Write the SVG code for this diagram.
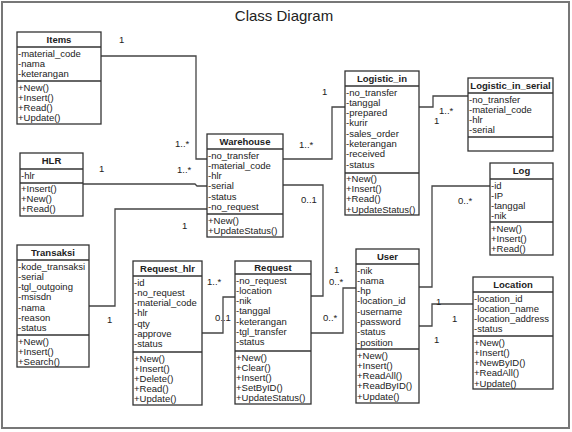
<svg xmlns="http://www.w3.org/2000/svg" width="572" height="432" viewBox="0 0 572 432">
<style>
.bg{fill:#fff}
.frame{fill:none;stroke:#777;stroke-width:2}
.box{fill:#fff;stroke:#333;stroke-width:1.3}
.sep{stroke:#333;stroke-width:1.3}
.c{fill:none;stroke:#444;stroke-width:1.3}
text{font-family:"Liberation Sans",Arial,sans-serif;font-size:9.5px;fill:#222}
.h{font-weight:bold;text-anchor:middle}
.title{font-size:15px;text-anchor:middle}
</style>
<rect class="bg" x="0" y="0" width="572" height="432"/>
<rect class="frame" x="2" y="2" width="567" height="426"/>
<text class="title" x="284" y="21">Class Diagram</text>

<g id="connectors">
<path class="c" d="M101,56 H196 V159 H207"/>
<path class="c" d="M83,184 H195 L197,186 H207"/>
<path class="c" d="M207,209 H115 V306 H89"/>
<path class="c" d="M283,159 H332 V107 H345"/>
<path class="c" d="M419,107 H433 V96 H468"/>
<path class="c" d="M283,185 H323 V296 H311"/>
<path class="c" d="M311,333 H343 V288 H356"/>
<path class="c" d="M202,333 H223 V297 H235"/>
<path class="c" d="M490,186 H432 V287 H419"/>
<path class="c" d="M419,326 H432 V304 H473"/>
<text x="119" y="43">1</text>
<text x="175" y="147">1..*</text>
<text x="99" y="172">1</text>
<text x="177" y="173">1..*</text>
<text x="182" y="229">1</text>
<text x="107" y="323">1</text>
<text x="322" y="95">1</text>
<text x="299" y="148">1..*</text>
<text x="439" y="114">1..*</text>
<text x="434" y="124">1</text>
<text x="301" y="203">0..1</text>
<text x="334" y="273">1</text>
<text x="329" y="285">0..*</text>
<text x="323" y="321">0..*</text>
<text x="207" y="285">1..*</text>
<text x="215" y="321">0..1</text>
<text x="458" y="204">0..*</text>
<text x="436" y="305">1</text>
<text x="452" y="322">1</text>
<text x="434" y="343">1</text>
</g>

<g id="Items">
<rect class="box" x="17" y="32" width="84" height="92"/>
<line class="sep" x1="17" y1="47" x2="101" y2="47"/>
<line class="sep" x1="17" y1="81" x2="101" y2="81"/>
<text class="h" x="59" y="43">Items</text>
<text x="18" y="56.5">-material_code</text>
<text x="18" y="66.8">-nama</text>
<text x="18" y="77.1">-keterangan</text>
<text x="18" y="90.5">+New()</text>
<text x="18" y="100.8">+Insert()</text>
<text x="18" y="111.1">+Read()</text>
<text x="18" y="121.4">+Update()</text>
</g>

<g id="HLR">
<rect class="box" x="20" y="153" width="63" height="63"/>
<line class="sep" x1="20" y1="169" x2="83" y2="169"/>
<line class="sep" x1="20" y1="183" x2="83" y2="183"/>
<text class="h" x="51.5" y="164">HLR</text>
<text x="21" y="178.5">-hlr</text>
<text x="21" y="192">+Insert()</text>
<text x="21" y="202">+New()</text>
<text x="21" y="212">+Read()</text>
</g>

<g id="Transaksi">
<rect class="box" x="17" y="245" width="72" height="122"/>
<line class="sep" x1="17" y1="260" x2="89" y2="260"/>
<line class="sep" x1="17" y1="335" x2="89" y2="335"/>
<text class="h" x="53" y="256">Transaksi</text>
<text x="18" y="269.5">-kode_transaksi</text>
<text x="18" y="279.8">-serial</text>
<text x="18" y="290.1">-tgl_outgoing</text>
<text x="18" y="300.4">-msisdn</text>
<text x="18" y="310.7">-nama</text>
<text x="18" y="321">-reason</text>
<text x="18" y="331.3">-status</text>
<text x="18" y="344.5">+New()</text>
<text x="18" y="354.8">+Insert()</text>
<text x="18" y="365.1">+Search()</text>
</g>

<g id="Warehouse">
<rect class="box" x="207" y="134" width="76" height="103"/>
<line class="sep" x1="207" y1="149" x2="283" y2="149"/>
<line class="sep" x1="207" y1="214" x2="283" y2="214"/>
<text class="h" x="245" y="145">Warehouse</text>
<text x="208" y="158.5">-no_transfer</text>
<text x="208" y="168.8">-material_code</text>
<text x="208" y="179.1">-hlr</text>
<text x="208" y="189.4">-serial</text>
<text x="208" y="199.7">-status</text>
<text x="208" y="210">-no_request</text>
<text x="208" y="223.5">+New()</text>
<text x="208" y="233.8">+UpdateStatus()</text>
</g>

<g id="Logistic_in">
<rect class="box" x="345" y="71" width="74" height="144"/>
<line class="sep" x1="345" y1="86" x2="419" y2="86"/>
<line class="sep" x1="345" y1="173" x2="419" y2="173"/>
<text class="h" x="382" y="82">Logistic_in</text>
<text x="346" y="95.5">-no_transfer</text>
<text x="346" y="105.8">-tanggal</text>
<text x="346" y="116.1">-prepared</text>
<text x="346" y="126.4">-kurir</text>
<text x="346" y="136.7">-sales_order</text>
<text x="346" y="147">-keterangan</text>
<text x="346" y="157.3">-received</text>
<text x="346" y="167.6">-status</text>
<text x="346" y="182">+New()</text>
<text x="346" y="192.2">+Insert()</text>
<text x="346" y="202.4">+Read()</text>
<text x="346" y="212.6">+UpdateStatus()</text>
</g>

<g id="Logistic_in_serial">
<rect class="box" x="468" y="78" width="85" height="73"/>
<line class="sep" x1="468" y1="93" x2="553" y2="93"/>
<line class="sep" x1="468" y1="137" x2="553" y2="137"/>
<text class="h" x="510.5" y="89">Logistic_in_serial</text>
<text x="469" y="102.5">-no_transfer</text>
<text x="469" y="112.8">-material_code</text>
<text x="469" y="123.1">-hlr</text>
<text x="469" y="133.4">-serial</text>
</g>

<g id="Log">
<rect class="box" x="490" y="163" width="63" height="92"/>
<line class="sep" x1="490" y1="179" x2="553" y2="179"/>
<line class="sep" x1="490" y1="222" x2="553" y2="222"/>
<text class="h" x="521.5" y="174">Log</text>
<text x="491" y="188.5">-id</text>
<text x="491" y="198.8">-IP</text>
<text x="491" y="209.1">-tanggal</text>
<text x="491" y="219.4">-nik</text>
<text x="491" y="231.5">+New()</text>
<text x="491" y="241.8">+Insert()</text>
<text x="491" y="252.1">+Read()</text>
</g>

<g id="Request_hlr">
<rect class="box" x="133" y="261" width="69" height="144"/>
<line class="sep" x1="133" y1="276" x2="202" y2="276"/>
<line class="sep" x1="133" y1="352" x2="202" y2="352"/>
<text class="h" x="167.5" y="272">Request_hlr</text>
<text x="134" y="285.5">-id</text>
<text x="134" y="295.8">-no_request</text>
<text x="134" y="306.1">-material_code</text>
<text x="134" y="316.4">-hlr</text>
<text x="134" y="326.7">-qty</text>
<text x="134" y="337">-approve</text>
<text x="134" y="347.3">-status</text>
<text x="134" y="361.5">+New()</text>
<text x="134" y="371.7">+Insert()</text>
<text x="134" y="381.9">+Delete()</text>
<text x="134" y="392.1">+Read()</text>
<text x="134" y="402.3">+Update()</text>
</g>

<g id="Request">
<rect class="box" x="235" y="261" width="76" height="143"/>
<line class="sep" x1="235" y1="274" x2="311" y2="274"/>
<line class="sep" x1="235" y1="351" x2="311" y2="351"/>
<text class="h" x="273" y="271">Request</text>
<text x="236" y="283.5">-no_request</text>
<text x="236" y="293.8">-location</text>
<text x="236" y="304.1">-nik</text>
<text x="236" y="314.4">-tanggal</text>
<text x="236" y="324.7">-keterangan</text>
<text x="236" y="335">-tgl_transfer</text>
<text x="236" y="345.3">-status</text>
<text x="236" y="360.5">+New()</text>
<text x="236" y="370.7">+Clear()</text>
<text x="236" y="380.9">+Insert()</text>
<text x="236" y="391.1">+SetByID()</text>
<text x="236" y="401.3">+UpdateStatus()</text>
</g>

<g id="User">
<rect class="box" x="356" y="249" width="63" height="154"/>
<line class="sep" x1="356" y1="264" x2="419" y2="264"/>
<line class="sep" x1="356" y1="349" x2="419" y2="349"/>
<text class="h" x="387.5" y="260">User</text>
<text x="357" y="273.5">-nik</text>
<text x="357" y="283.8">-nama</text>
<text x="357" y="294.1">-hp</text>
<text x="357" y="304.4">-location_id</text>
<text x="357" y="314.7">-username</text>
<text x="357" y="325">-password</text>
<text x="357" y="335.3">-status</text>
<text x="357" y="345.6">-position</text>
<text x="357" y="358.5">+New()</text>
<text x="357" y="368.8">+Insert()</text>
<text x="357" y="379.1">+ReadAll()</text>
<text x="357" y="389.4">+ReadByID()</text>
<text x="357" y="399.7">+Update()</text>
</g>

<g id="Location">
<rect class="box" x="473" y="277" width="80" height="112"/>
<line class="sep" x1="473" y1="292" x2="553" y2="292"/>
<line class="sep" x1="473" y1="336" x2="553" y2="336"/>
<text class="h" x="513" y="288">Location</text>
<text x="474" y="301.5">-location_id</text>
<text x="474" y="311.8">-location_name</text>
<text x="474" y="322.1">-location_address</text>
<text x="474" y="332.4">-status</text>
<text x="474" y="345.5">+New()</text>
<text x="474" y="355.8">+Insert()</text>
<text x="474" y="366.1">+NewByID()</text>
<text x="474" y="376.4">+ReadAll()</text>
<text x="474" y="386.7">+Update()</text>
</g>
</svg>
